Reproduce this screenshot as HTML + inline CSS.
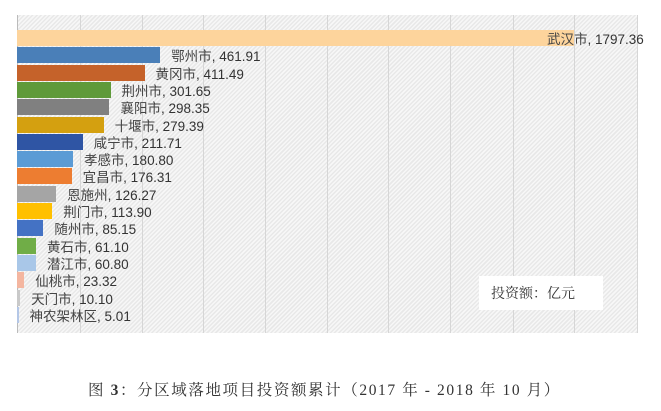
<!DOCTYPE html>
<html><head><meta charset="utf-8"><style>
body{margin:0;width:661px;height:411px;background:#fff;position:relative;overflow:hidden;font-family:"Liberation Sans","Noto Sans CJK SC",sans-serif}
#plot{position:absolute;left:17px;top:15px;width:620px;height:318px;background:repeating-linear-gradient(135deg,#f7f7f7 0 1.5px,#e8e8e8 1.5px 3px)}
.g{position:absolute;top:15px;height:318px;width:1px;background:#d6d6d6}
.b{position:absolute;height:16px}
.l{position:absolute;font-size:13.5px;color:#333;line-height:16px;white-space:nowrap}
.l span{font-family:"Noto Sans CJK SC",sans-serif;color:#444}
#leg{position:absolute;left:479px;top:276px;width:124px;height:34px;background:#fff;font-family:"Noto Serif CJK SC",serif;font-size:14px;color:#333;line-height:34px;text-indent:12px}
#cap{position:absolute;left:88px;top:378px;font-family:"Liberation Serif","Noto Serif CJK SC",serif;font-size:15.5px;color:#333;letter-spacing:1.6px;white-space:nowrap}
</style></head><body>
<div id="plot"></div>
<div class="g" style="left:80px"></div><div class="g" style="left:142px"></div><div class="g" style="left:203px"></div><div class="g" style="left:265px"></div><div class="g" style="left:327px"></div><div class="g" style="left:388px"></div><div class="g" style="left:450px"></div><div class="g" style="left:513px"></div><div class="g" style="left:574px"></div><div class="g" style="left:637px"></div>
<div class="g" style="left:17px;background:#bbb"></div>
<div id="bars"></div>
<div id="leg">投资额：亿元</div>
<div id="cap">图 <b>3</b>：分区域落地项目投资额累计（2017 年 - 2018 年 10 月）</div>
<script>
var d=[["武汉市",1797.36,"#fdd49c"],["鄂州市",461.91,"#4a7fb8"],["黄冈市",411.49,"#c5622a"],["荆州市",301.65,"#5f9a3a"],["襄阳市",298.35,"#808080"],["十堰市",279.39,"#d4a010"],["咸宁市",211.71,"#2f55a4"],["孝感市",180.80,"#5b9bd5"],["宜昌市",176.31,"#ed7d31"],["恩施州",126.27,"#a5a5a5"],["荆门市",113.90,"#ffc000"],["随州市",85.15,"#4472c4"],["黄石市",61.10,"#70ad47"],["潜江市",60.80,"#a9c7e8"],["仙桃市",23.32,"#f4b6a0"],["天门市",10.10,"#c9c9c9"],["神农架林区",5.01,"#b4c7e7"]];
var h="";
d.forEach(function(r,i){var t=30+i*17.3,w=r[1]*0.31,e=17+w;
h+='<div class="b" style="left:17px;top:'+t+'px;width:'+w+'px;background:'+r[2]+'"></div>';
var lx=i==0?547:e+11;
h+='<div class="l" style="left:'+lx+'px;top:'+(t)+'px"><span>'+r[0]+'</span>, '+r[1].toFixed(2)+'</div>';});
document.getElementById("bars").innerHTML=h;
</script>
</body></html>
